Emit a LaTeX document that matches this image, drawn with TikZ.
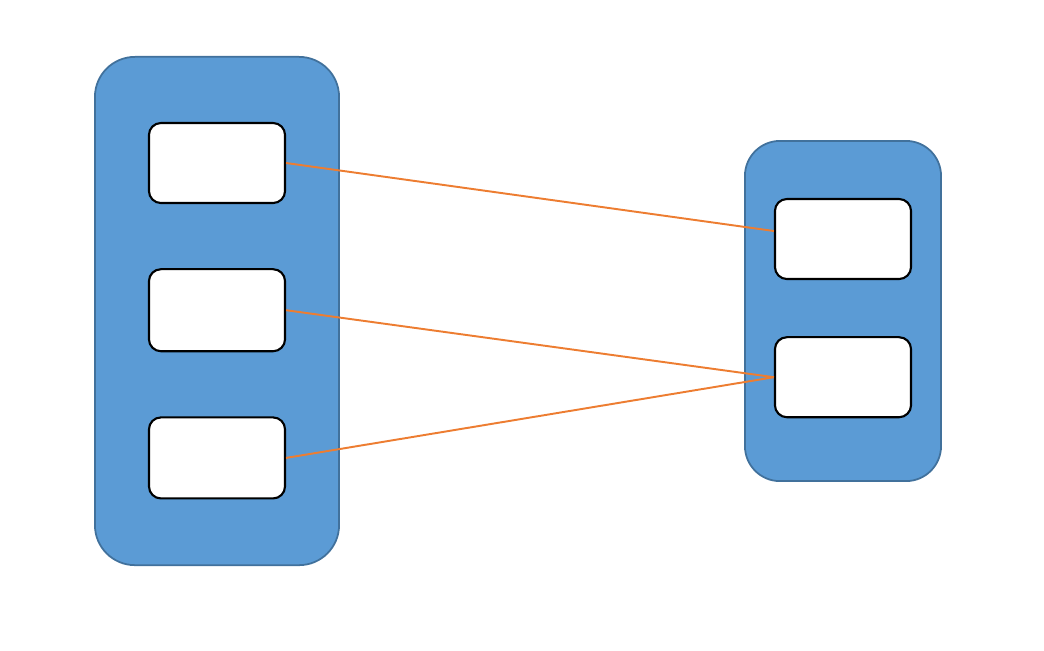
\documentclass[tikz,border=0pt]{standalone}
\usepackage{xcolor}
\usepackage{tikz}
\usetikzlibrary{positioning}

\definecolor{groupfill}{HTML}{5B9BD5}
\definecolor{groupline}{HTML}{41719C}
\definecolor{linkcol}{HTML}{ED7D31}

\begin{document}
\begin{tikzpicture}[x=0.01cm,y=-0.01cm,
    group/.style={rectangle,rounded corners=0.4cm,fill=groupfill,draw=groupline,line width=0.5pt,inner sep=0pt},
    item/.style={rectangle,rounded corners=0.12cm,fill=white,draw=black,line width=0.6pt,minimum width=1.36cm,minimum height=0.8cm,inner sep=0pt},
    link/.style={draw=linkcol,line width=0.55pt}]
    \useasboundingbox (0,0) rectangle (1044,650);

    % containers
    \node[group,minimum width=2.44cm,minimum height=5.08cm] (left) at (217,311) {};
    \node[group,minimum width=1.96cm,minimum height=3.4cm,rounded corners=0.35cm] (right) at (843,311) {};

    % boxes
    \node[item] (l1) at (217,163) {};
    \node[item,minimum height=0.82cm] (l2) [below=0.64cm of l1] {};
    \node[item,minimum height=0.81cm] (l3) [below=0.64cm of l2] {};
    \node[item] (r1) at (843,239) {};
    \node[item] (r2) [below=0.56cm of r1] {};

    \coordinate (r1in) at ([yshift=0.08cm]r1.west);

    % links
    \path[link] (l1.east) -- (r1in)
                (l2.east) -- (r2.west)
                (l3.east) -- (r2.west);
\end{tikzpicture}
\end{document}
